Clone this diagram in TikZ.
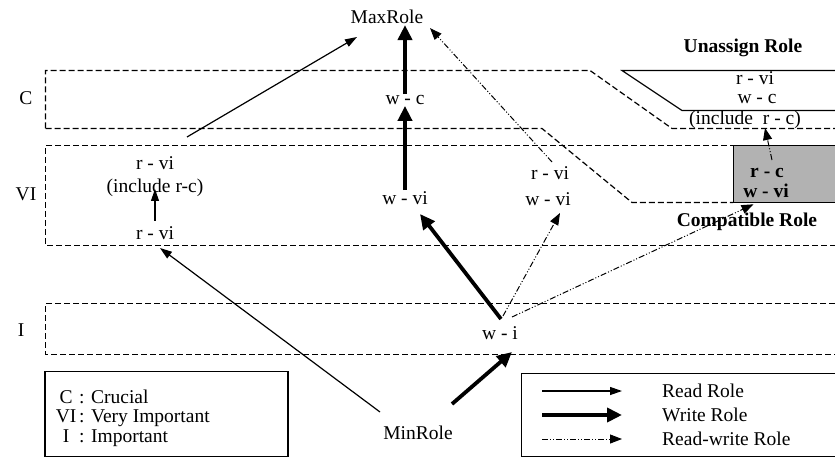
\documentclass[tikz,border=0pt]{standalone}
\usepackage{fontspec}
\setmainfont{Liberation Serif}
\usetikzlibrary{arrows.meta}
\tikzset{
  lbl/.style={inner sep=1pt, font=\fontsize{19.5}{21}\selectfont},
  blbl/.style={inner sep=1pt, font=\fontsize{19.5}{21}\selectfont\bfseries},
  band/.style={line width=1.2pt, dash pattern=on 6pt off 3pt},
  readarr/.style={line width=1.2pt, -{Triangle[length=12pt,width=8pt]}},
  writearr/.style={line width=3.8pt, -{Triangle[length=15pt,width=14pt]}},
  rwarr/.style={line width=1pt, dash pattern=on 6pt off 2pt on 1pt off 2pt on 1pt off 2pt, -{Triangle[length=12pt,width=9pt]}},
  legbox/.style={draw, line width=1.1pt},
}
\begin{document}
\begin{tikzpicture}[x=1pt,y=-1pt]
\useasboundingbox (0,0) rectangle (835,457);
% bands
\draw[band] (45.5,128.5) -- (45.5,70.5) -- (590,70.5) -- (672,128.5) -- (835,128.5);
\draw[band] (45.5,128.5) -- (542,128.5) -- (632,202.5) -- (733,202.5);
\draw[band] (835,145.5) -- (45.5,145.5) -- (45.5,245.5) -- (835,245.5);
\draw[band] (835,303.5) -- (45.5,303.5) -- (45.5,354.5) -- (835,354.5);
% band labels
\node[lbl] (lc) at (26,98) {C};
\node[lbl] (lvi) at (26,194) {VI};
\node[lbl] (li) at (21,330) {I};
% unassign role shape
\draw[line width=1.2pt] (835,70.5) -- (622,70.5) -- (682,110.5) -- (835,110.5);
\node[blbl] (unassign) at (743,48) {Unassign Role};
\node[lbl] (urvi) at (755,78) {r - vi};
\node[lbl] (uwc) at (757,99) {w - c};
\node[lbl] (uincl) at (745,120) {(include\ \ r - c)};
% compatible role box
\node[draw, fill=gray!60, minimum width=103pt, minimum height=57pt, inner sep=0pt, line width=0.6pt] (compat) at (784.5,173.5) {};
\node[blbl] (crc) at (767,173) {r - c};
\node[blbl] (cwvi) at (766,191) {w - vi};
\node[blbl] (compatlbl) at (747,222) {Compatible Role};
% main nodes
\node[lbl] (maxrole) at (387,17) {MaxRole};
\node[lbl] (minrole) at (418,433) {MinRole};
\node[lbl] (wc) at (405,100) {w - c};
\node[lbl] (wvi) at (405,198) {w - vi};
\node[lbl] (rvi1) at (155,163) {r - vi};
\node[lbl] (incl) at (155,188) {(include r-c)};
\node[lbl] (rvi2) at (155,233) {r - vi};
\node[lbl] (rvim) at (550,173) {r - vi};
\node[lbl] (wvim) at (548,199) {w - vi};
\node[lbl] (wi) at (500,333) {w - i};
% connectors
\draw[writearr] (wc.north) -- (wc |- maxrole.south);
\draw[writearr] (wvi.north) -- (wc.south);
\draw[readarr] ([shift={(32,-26)}]rvi1.center) -- ([shift={(-30,20)}]maxrole.center);
\draw[readarr] ([shift={(0,-12)}]rvi2.center) -- ([shift={(0,1)}]incl.center);
\draw[readarr] ([shift={(-38,-21)}]minrole.center) -- ([shift={(5,15)}]rvi2.center);
\draw[writearr] ([shift={(34,-29)}]minrole.center) -- ([shift={(12,19)}]wi.center);
\draw[writearr] ([shift={(1,-14)}]wi.center) -- ([shift={(15,16)}]wvi.center);
\draw[rwarr] ([shift={(3,-17)}]wi.center) -- ([shift={(12,14)}]wvim.center);
\draw[rwarr] ([shift={(12,-16)}]wi.center) -- ([shift={(-31,2)}]compat.south);
\draw[rwarr] ([shift={(2,-11)}]rvim.center) -- ([shift={(43,11)}]maxrole.center);
\draw[rwarr] ([shift={(5,-13)}]crc.center) -- ([shift={(20,8)}]uincl.center);
% legend 1
\node[legbox, minimum width=243pt, minimum height=85pt, inner sep=0pt] (leg1) at (166.5,414) {};
\node[lbl, anchor=west] (k1) at (52,397) {\makebox[26pt][c]{C}: Crucial};
\node[lbl, anchor=west] (k2) at (52,418) {\makebox[26pt][c]{VI}: Very Important};
\node[lbl, anchor=west] (k3) at (52,438) {\makebox[26pt][c]{I}: Important};
% legend 2
\node[legbox, minimum width=316pt, minimum height=83pt, inner sep=0pt, anchor=north west] (leg2) at (521,373) {};
\coordinate (a1s) at (542,391); \coordinate (a1e) at (622,391);
\coordinate (a2s) at (542,415); \coordinate (a2e) at (622,415);
\coordinate (a3s) at (542,439); \coordinate (a3e) at (622,439);
\draw[readarr] (a1s) -- (a1e);
\draw[writearr] (a2s) -- (a2e);
\draw[rwarr] (a3s) -- (a3e);
\node[lbl, anchor=west] (t1) at (661,391) {Read Role};
\node[lbl, anchor=west] (t2) at (661,415) {Write Role};
\node[lbl, anchor=west] (t3) at (661,439) {Read-write Role};
\end{tikzpicture}
\end{document}
